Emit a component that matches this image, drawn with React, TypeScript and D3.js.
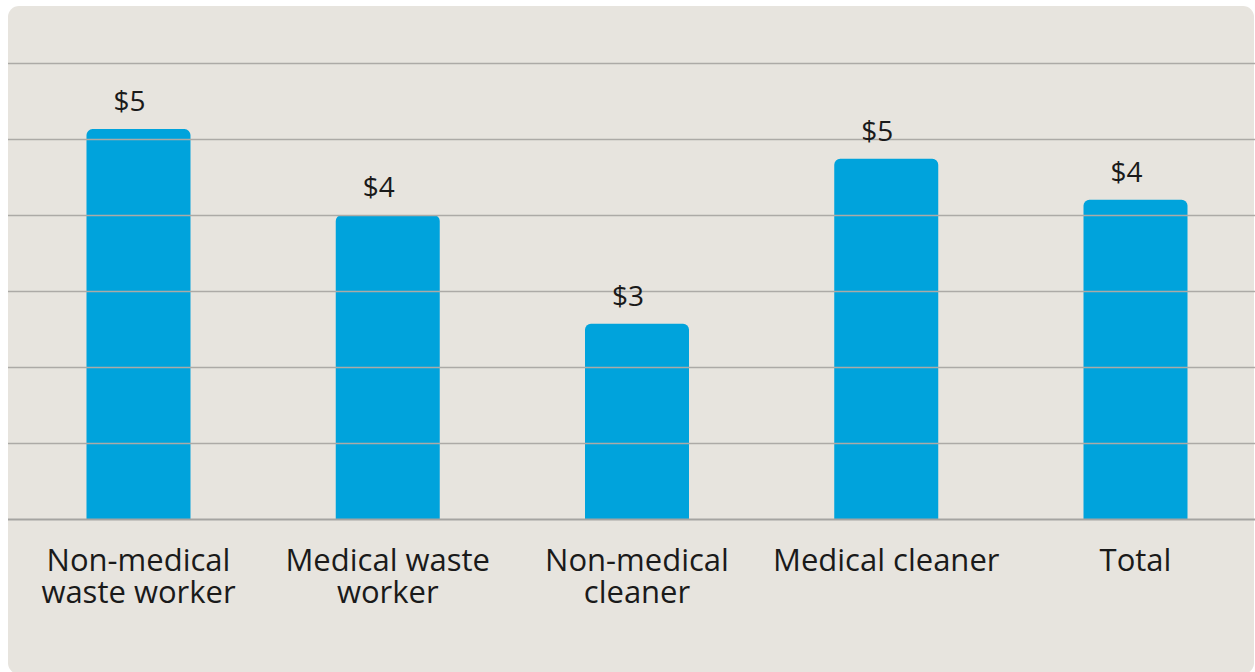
import * as d3 from "d3";

const categories = [
  ["Non-medical", "waste worker"],
  ["Medical waste", "worker"],
  ["Non-medical", "cleaner"],
  ["Medical cleaner"],
  ["Total"],
];
const values = [5.13, 4.0, 2.57, 4.74, 4.2];
const valueLabels = ["$5", "$4", "$3", "$5", "$4"];
const gridTicks = [0, 1, 2, 3, 4, 5, 6];

const W = 1255;
const H = 672;

export default function App() {
  // panel and plot geometry
  const panel = { x: 8, y: 6, w: W - 9, h: H - 4 };
  const plotLeft = 8;
  const plotRight = W;

  const y = d3.scaleLinear().domain([0, 6]).range([519, 63]);
  const x = d3
    .scaleBand<number>()
    .domain(values.map((_, i) => i))
    .range([12, 1262])
    .paddingInner(0.585)
    .paddingOuter(0.3);

  const barW = 104;
  const r = 6;

  // bar with rounded top corners only
  const barPath = (cx: number, v: number) => {
    const x0 = cx - barW / 2;
    const x1 = cx + barW / 2;
    const y0 = y(v);
    const yb = y(0);
    const p = d3.path();
    p.moveTo(x0, yb);
    p.lineTo(x0, y0 + r);
    p.arcTo(x0, y0, x0 + r, y0, r);
    p.lineTo(x1 - r, y0);
    p.arcTo(x1, y0, x1, y0 + r, r);
    p.lineTo(x1, yb);
    p.closePath();
    return p.toString();
  };

  const font = "'Open Sans', 'Noto Sans', sans-serif";

  return (
    <svg
      width={W}
      height={H}
      style={{ position: "absolute", left: 0, top: 0, display: "block" }}
      fontFamily={font}
    >
      <rect x={0} y={0} width={W} height={H} fill="#ffffff" />
      <rect x={panel.x} y={panel.y} width={panel.w} height={panel.h} rx={11} fill="#e7e4de" />

      {values.map((v, i) => {
        const cx = x(i)! + x.bandwidth() / 2;
        return <path key={"b" + i} d={barPath(cx, v)} fill="#00a3dc" />;
      })}

      {gridTicks.map((t) => (
        <line
          key={"g" + t}
          x1={plotLeft}
          x2={plotRight}
          y1={Math.round(y(t)) + 0.5}
          y2={Math.round(y(t)) + 0.5}
          stroke={t === 0 ? "#a5a4a1" : "#acaaa6"}
          strokeWidth={t === 0 ? 2 : 1.5}
        />
      ))}

      {values.map((v, i) => {
        const cx = x(i)! + x.bandwidth() / 2;
        return (
          <text
            key={"v" + i}
            x={cx - 9}
            y={y(v) - 18}
            textAnchor="middle"
            fontSize={28}
            fill="#1a1a1a"
          >
            {valueLabels[i]}
          </text>
        );
      })}

      {categories.map((lines, i) => {
        const cx = x(i)! + x.bandwidth() / 2;
        return (
          <text key={"c" + i} x={cx} y={571} textAnchor="middle" fontSize={31} fill="#1a1a1a">
            {lines.map((l, j) => (
              <tspan key={j} x={cx} dy={j === 0 ? 0 : 32}>
                {l}
              </tspan>
            ))}
          </text>
        );
      })}
    </svg>
  );
}
